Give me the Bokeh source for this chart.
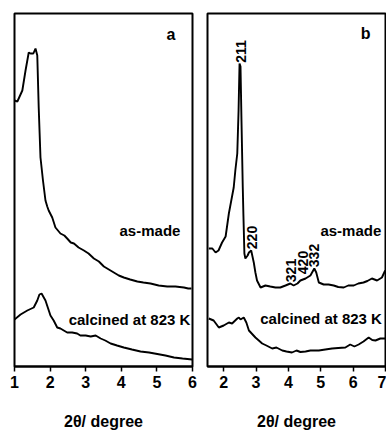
import math
from bokeh.plotting import figure
from bokeh.layouts import row
from bokeh.models import Range1d, FixedTicker
from bokeh.core.properties import value
from bokeh.embed import file_html
from bokeh.resources import INLINE

# ---------------- data ----------------
# panel a: small-angle XRD, as-made
a_made_x = [1.00, 1.08, 1.22, 1.31, 1.40, 1.45, 1.53, 1.59, 1.64, 1.68, 1.73, 1.80, 1.87, 1.92, 1.96,
            2.06, 2.15, 2.29, 2.40, 2.48, 2.58, 2.67, 2.80, 2.95, 3.08, 3.23, 3.37, 3.51, 3.65, 3.79,
            3.93, 4.07, 4.25, 4.45, 4.62, 4.82, 5.05, 5.29, 5.52, 5.76, 5.88, 5.97]
a_made_y = [266, 265, 276, 296, 314, 313, 313, 318, 311, 259, 209, 186, 166, 160, 156,
            149, 139, 133, 131, 128, 124, 123, 119, 116, 113, 108, 105, 100, 97, 94,
            91, 89, 87, 85, 84, 83, 81, 80, 80, 79, 78, 78]
# panel a: calcined at 823 K
a_calc_x = [1.00, 1.17, 1.36, 1.54, 1.64, 1.70, 1.76, 1.87, 2.01, 2.10, 2.20, 2.29, 2.48, 2.62, 2.76,
            2.85, 3.00, 3.14, 3.28, 3.42, 3.55, 3.70, 3.88, 4.07, 4.30, 4.54, 4.78, 5.01, 5.24, 5.48,
            5.72, 5.99]
a_calc_y = [47, 52, 56, 59, 66, 72, 73, 66, 51, 46, 39, 38, 34, 34, 33,
            31, 31, 30, 31, 28, 26, 23, 21, 19, 17, 15, 14, 12.5, 11, 9,
            8, 7]

# panel b: wide-angle region, as-made
b_made_x = [1.54, 1.65, 1.75, 1.84, 1.95, 2.06, 2.16, 2.31, 2.36, 2.42, 2.46, 2.49, 2.52, 2.55, 2.59,
            2.61, 2.64, 2.67, 2.74, 2.78, 2.85, 2.93, 2.98, 3.03, 3.14, 3.29, 3.44, 3.60, 3.75, 3.91,
            4.06, 4.16, 4.28, 4.37, 4.53, 4.68, 4.80, 4.86, 4.94, 5.09, 5.24, 5.40, 5.54, 5.71, 5.85,
            6.02, 6.16, 6.32, 6.44, 6.58, 6.74, 6.89, 6.99]
b_made_y = [118, 118, 114, 116, 124, 130, 153, 179, 196, 213, 256, 303, 300, 246, 179,
            151, 113, 108, 111, 114, 116, 104, 94, 86, 79, 81, 80, 79, 79, 81,
            83, 81, 83, 86, 88, 91, 98, 94, 84, 82, 82, 81, 79.5, 79, 81,
            81, 83, 84, 85.5, 88, 86, 89, 96]
# panel b: calcined at 823 K
b_calc_x = [1.54, 1.69, 1.85, 2.00, 2.16, 2.26, 2.42, 2.47, 2.52, 2.62, 2.70, 2.78, 2.98, 3.19, 3.32,
            3.50, 3.63, 3.81, 3.94, 4.11, 4.25, 4.37, 4.53, 4.68, 4.94, 5.14, 5.35, 5.54, 5.76, 5.91,
            6.04, 6.17, 6.32, 6.48, 6.59, 6.69, 6.84, 6.99]
b_calc_y = [48, 46, 39, 41, 44, 43, 48, 49, 47, 49, 44, 36, 29, 23, 21,
            18, 19, 16, 15, 14, 16, 14.5, 15, 16, 16, 17, 18, 18.5, 19, 22,
            20, 22, 25, 29, 26.5, 26, 28, 28]

# reflection labels (panel b)
hkl_labels = ["211", "220", "321", "420", "332"]
hkl_x = [2.52, 2.88, 4.09, 4.46, 4.80]
hkl_y = [315, 129, 96, 104, 111]

a_ticks = [1, 2, 3, 4, 5, 6]
b_ticks = [2, 3, 4, 5, 6, 7]
axis_title = "2θ/ degree"

FONT = "Liberation Sans"
LW = 1.9


def make_panel(xr, ticks, border_left, border_right):
    p = figure(output_backend="svg", toolbar_location=None,
               frame_width=178, frame_height=353,
               x_range=Range1d(*xr), y_range=Range1d(0, 353),
               min_border_left=border_left, min_border_right=border_right,
               min_border_top=13, min_border_bottom=10)
    p.grid.visible = False
    p.yaxis.visible = False
    p.outline_line_color = "black"
    p.outline_line_width = 2
    p.outline_line_alpha = 1
    p.background_fill_color = "white"
    p.border_fill_color = "white"
    ax = p.xaxis[0]
    ax.ticker = FixedTicker(ticks=ticks)
    ax.axis_line_width = 2
    ax.major_tick_line_width = 1.5
    ax.major_tick_out = 5
    ax.major_tick_in = 0
    ax.minor_tick_line_color = None
    ax.major_label_text_font = FONT
    ax.major_label_text_font_style = "bold"
    ax.major_label_text_font_size = "16px"
    ax.major_label_text_color = "black"
    ax.major_label_standoff = 4
    ax.axis_label = axis_title
    ax.axis_label_text_font = FONT
    ax.axis_label_text_font_style = "bold"
    ax.axis_label_text_font_size = "16px"
    ax.axis_label_text_color = "black"
    ax.axis_label_standoff = 22
    return p


def add_text(p, xs, ys, texts, size, align="right", angle=0.0):
    p.text(x=xs, y=ys, text=texts, text_font=value(FONT), text_font_style="bold",
           text_font_size=size, text_align=align, text_baseline="middle",
           text_color="black", angle=angle)


pa = make_panel((1, 6), a_ticks, 14, 7)
pa.line(a_made_x, a_made_y, line_color="black", line_width=LW)
pa.line(a_calc_x, a_calc_y, line_color="black", line_width=LW)
add_text(pa, [5.52], [332], ["a"], "16px")
add_text(pa, [5.66], [136], ["as-made"], "15px")
add_text(pa, [5.94], [47.5], ["calcined at 823 K"], "15px")

pb = make_panel((1.5, 7), b_ticks, 8, 1)
pb.line(b_made_x, b_made_y, line_color="black", line_width=LW)
pb.line(b_calc_x, b_calc_y, line_color="black", line_width=LW)
add_text(pb, [6.54], [333], ["b"], "16px")
add_text(pb, [6.87], [136], ["as-made"], "15px")
add_text(pb, [6.89], [48.5], ["calcined at 823 K"], "15px")
add_text(pb, hkl_x, hkl_y, hkl_labels, "14px", align="center", angle=math.pi / 2)

layout = row(pa, pb, spacing=0)

open("out.html", "w").write(file_html(layout, INLINE))
